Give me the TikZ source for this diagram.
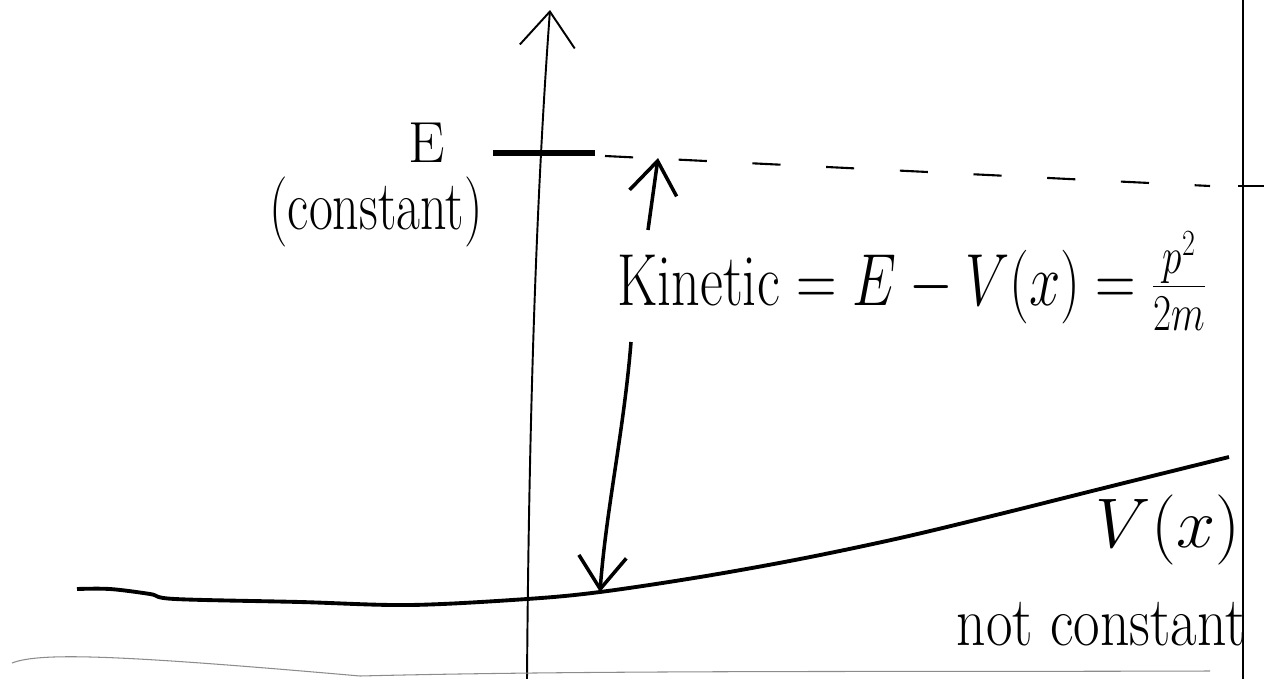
\RequirePackage{fix-cm}
\documentclass[tikz,border=0pt]{standalone}
\usepackage{amsmath}
\usepackage{tikz}
\usetikzlibrary{arrows.meta}
\colorlet{potink}{black}
\colorlet{potscan}{black!45}
\newcommand{\pothand}[2][0.8]{\scalebox{#1}[1]{#2}}
\tikzset{
  potaxis/.style={-{Straight Barb[length=7mm,width=11mm]},line width=1.1pt,potink},
  potlevel/.style={line width=3.6pt,potink},
  potdash/.style={line width=1.2pt,dash pattern=on 16pt off 26pt,potink},
  potcurve/.style={line width=2.2pt,potink},
  potarrow/.style={-{Straight Barb[length=6.5mm,width=9.5mm]},line width=2pt,potink},
  potedge/.style={line width=0.9pt,potink},
  potscanline/.style={line width=0.6pt,potscan},
  potsmall/.style={inner sep=0pt,font=\fontsize{33}{36}\selectfont},
  potlabel/.style={inner sep=0pt,font=\fontsize{40}{44}\selectfont},
  potbig/.style={inner sep=0pt,font=\fontsize{42}{46}\selectfont}
}
\begin{document}
\begin{tikzpicture}[x=0.02cm,y=-0.02cm]
  \useasboundingbox (0,0) rectangle (1264,679);

  % energy axis
  \coordinate (axbot) at (527,679);
  \coordinate (axtop) at (550,10);
  \draw[potaxis] (axbot) .. controls (529,420) and (536,200) .. (axtop);

  % constant energy level
  \coordinate (eleft) at (493,153);
  \coordinate (eright) at (595,153);
  \coordinate (estart) at (605,156);
  \coordinate (eend) at (1210,186);
  \draw[potlevel] (eleft) -- (eright);
  \draw[potdash] (estart) -- (eend);
  \node[potsmall] (elab) at (427,143) {E};
  \node[potlabel] (econst) at (376,212) {\pothand[0.74]{(constant)}};

  % potential curve
  \coordinate (vhit) at (600,592);
  \draw[potcurve] plot[smooth,tension=0.55] coordinates
    {(77,589) (110,589) (150,594) (175,599) (300,602) (410,605) (527,599)
     (600,592) (700,577) (800,559) (900,538) (1000,514) (1100,489) (1229,457)};
  \node[potlabel] (vlab) at (1168,530) {$V(x)$};
  \node[potlabel,anchor=base east] (vnote) at (1246,645) {\pothand[0.82]{not constant}};

  % kinetic energy gap
  \node[potbig,anchor=base west] (kin) at (617,305)
    {\pothand[0.76]{Kinetic $= E - V(x) = \frac{p^2}{2m}$}};
  \coordinate (kinlow) at (648,230);
  \coordinate (kintop) at (658,158);
  \coordinate (downtop) at (631,342);
  \draw[potarrow] (kinlow) -- (kintop);
  \draw[potarrow] (downtop) .. controls (624,430) and (606,510) .. (vhit);

  % page edge and scan line
  \coordinate (edgetop) at (1243,0);
  \coordinate (edgebot) at (1243,679);
  \coordinate (tickl) at (1238,186);
  \coordinate (tickr) at (1264,186);
  \draw[potedge] (edgetop) -- (edgebot);
  \draw[potedge] (tickl) -- (tickr);
  \coordinate (scanl) at (12,663);
  \coordinate (scanr) at (1210,671);
  \draw[potscanline] (scanl) .. controls (40,652) and (120,655) .. (360,676)
    .. controls (600,670) and (900,672) .. (scanr);
\end{tikzpicture}
\end{document}
